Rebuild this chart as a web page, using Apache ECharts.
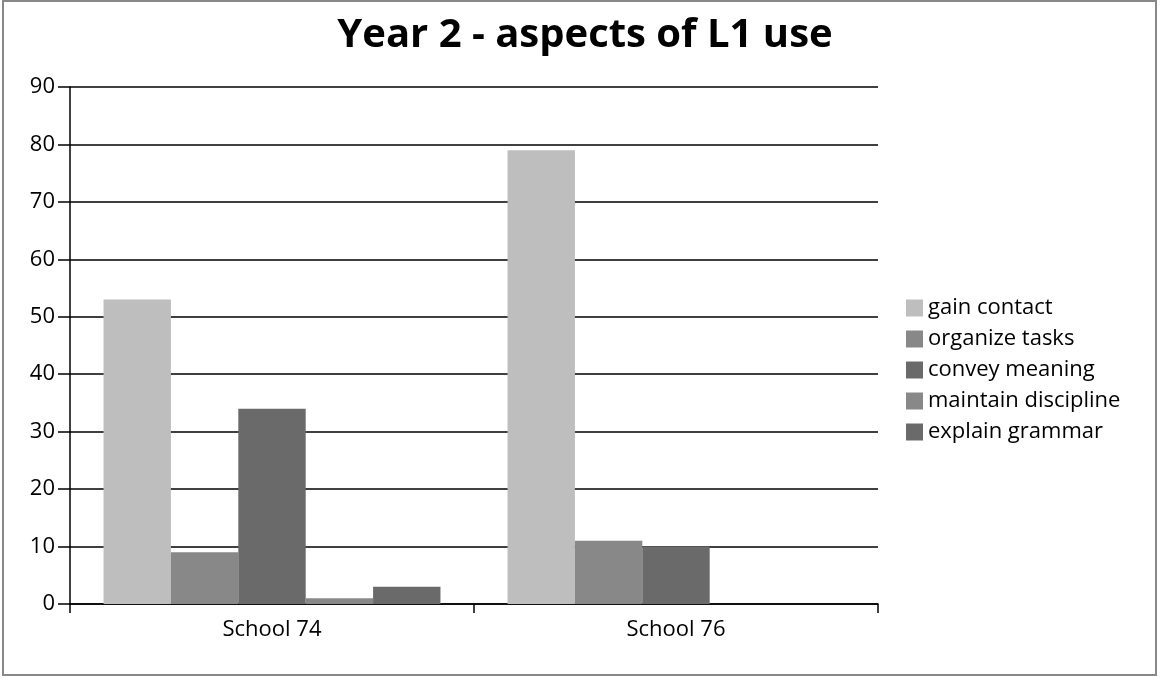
<!DOCTYPE html>
<html>
   <head>
       <meta charset="utf-8">
       <style>body{margin:0;}</style>
   </head>
   <body>
       <div id="container" style="height: 678px;width: 1160px;"></div>
   </body>
</html>
<script type="text/javascript" src="https://cdn.jsdelivr.net/npm/echarts@6/dist/echarts.min.js"></script>
<script type="text/javascript">
    const categories = ['School 74', 'School 76'];
    const seriesNames = ['gain contact', 'organize tasks', 'convey meaning', 'maintain discipline', 'explain grammar'];
    const seriesColors = ['#bebebe', '#888888', '#6a6a6a', '#888888', '#6a6a6a'];
    const gainContact = [53, 79];
    const organizeTasks = [9, 11];
    const conveyMeaning = [34, 10];
    const maintainDiscipline = [1, 0];
    const explainGrammar = [3, 0];
    const seriesValues = [gainContact, organizeTasks, conveyMeaning, maintainDiscipline, explainGrammar];

    drawChart();
    function drawChart() {
        const font = 'Open Sans';
        const myChart = echarts.init(document.getElementById('container'));
        const option = {
            animation: false,
            backgroundColor: '#fff',
            title: {
                text: 'Year 2 - aspects of L1 use',
                left: 580,
                textAlign: 'center',
                top: 11,
                textStyle: { fontFamily: font, fontSize: 40, fontWeight: 'bold', color: '#000' }
            },
            legend: {
                orient: 'vertical',
                left: 901,
                top: 292,
                itemWidth: 17,
                itemHeight: 17,
                itemGap: 9,
                icon: 'rect',
                textStyle: { fontFamily: font, fontSize: 22, lineHeight: 22, color: '#000' },
                data: seriesNames
            },
            grid: { left: 70, right: 282, top: 87, bottom: 74 },
            xAxis: {
                type: 'category',
                data: categories,
                axisLine: { lineStyle: { color: '#000', width: 1.5 } },
                axisTick: { show: true, length: 9, inside: false, lineStyle: { color: '#000', width: 1.5 } },
                axisLabel: { fontFamily: font, fontSize: 22, color: '#000', margin: 15 }
            },
            yAxis: {
                type: 'value',
                min: 0,
                max: 90,
                interval: 10,
                axisLine: { show: true, lineStyle: { color: '#000', width: 1.5 } },
                axisTick: { show: true, length: 12, lineStyle: { color: '#000', width: 1.5 } },
                axisLabel: { fontFamily: font, fontSize: 22, color: '#000', margin: 15 },
                splitLine: { lineStyle: { color: '#000', width: 1.5 } }
            },
            graphic: [{
                type: 'rect',
                shape: { x: 3, y: 1, width: 1153, height: 674 },
                style: { fill: 'none', stroke: '#888', lineWidth: 2 },
                silent: true
            }],
            series: seriesNames.map(function (name, i) {
                return {
                    name: name,
                    type: 'bar',
                    data: seriesValues[i],
                    barGap: '0%',
                    barCategoryGap: '16.6%',
                    itemStyle: { color: seriesColors[i] }
                };
            })
        };
        myChart.setOption(option, true);
    }
</script>
